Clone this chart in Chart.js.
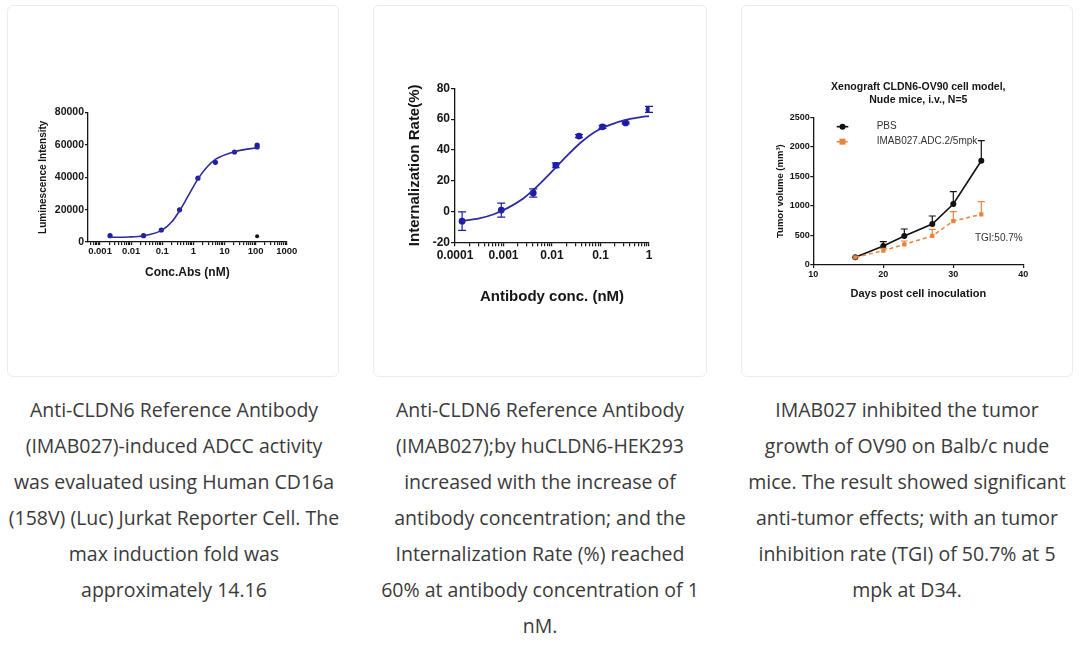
<!DOCTYPE html>
<html>
<head>
<meta charset="utf-8">
<script src="https://cdn.jsdelivr.net/npm/chart.js@4.4.1/dist/chart.umd.min.js"></script>
<style>
  body { margin: 0; background: #fff; width: 1080px; height: 647px; position: relative; overflow: hidden; }
  .card { position: absolute; top: 5px; height: 372px; border: 1px solid #ececec; border-radius: 6px; box-sizing: border-box; }
  canvas { position: absolute; top: 5px; }
  .cap { position: absolute; top: 392px; font-family: 'Open Sans', sans-serif; font-size: 19.5px; line-height: 36px;
         color: #3a3a3a; text-align: center; white-space: nowrap; }
</style>
</head>
<body>
<div class="card" style="left:7px;width:332px"></div>
<div class="card" style="left:373px;width:334px"></div>
<div class="card" style="left:741px;width:332px"></div>

<canvas id="grafAdcc" width="332" height="372" style="left:7px"></canvas>
<canvas id="grafInternal" width="334" height="372" style="left:373px"></canvas>
<canvas id="grafTumor" width="332" height="372" style="left:741px"></canvas>

<div class="cap" style="left:8px;width:332px">Anti-CLDN6 Reference Antibody<br>(IMAB027)-induced ADCC activity<br>was evaluated using Human CD16a<br>(158V) (Luc) Jurkat Reporter Cell. The<br>max induction fold was<br>approximately 14.16</div>
<div class="cap" style="left:373px;width:334px">Anti-CLDN6 Reference Antibody<br>(IMAB027);by huCLDN6-HEK293<br>increased with the increase of<br>antibody concentration; and the<br>Internalization Rate (%) reached<br>60% at antibody concentration of 1<br>nM.</div>
<div class="cap" style="left:741px;width:332px">IMAB027 inhibited the tumor<br>growth of OV90 on Balb/c nude<br>mice. The result showed significant<br>anti-tumor effects; with an tumor<br>inhibition rate (TGI) of 50.7% at 5<br>mpk at D34.</div>

<script>
// ----------------------
// DATOS
// ----------------------
// ADCC (Luminescence vs Conc.Abs)
const adccConc = [0.0021, 0.025, 0.093, 0.36, 1.4, 5.1, 21, 112, 112];
const adccSignal = [3900, 3900, 7400, 19900, 39400, 49200, 55600, 59900, 58700];
const adccCtrlConc = [112];
const adccCtrlSignal = [3500];
const adccFitConc = [0.0021, 0.0081, 0.025, 0.093, 0.2, 0.36, 0.71, 1.41, 2.75, 5.1, 21, 129];
const adccFitSignal = [2900, 3100, 3900, 7000, 12300, 19300, 29100, 39000, 46300, 51000, 55800, 58400];
const adccTicks = ['0.001', '0.01', '0.1', '1', '10', '100', '1000'];

// Internalization
const intConc = [0.00014, 0.0009, 0.0041, 0.012, 0.036, 0.11, 0.33, 1];
const intRate = [-6.3, 0.9, 12, 30, 49, 55, 57.5, 66.3];
const intErr = [6, 4.6, 2.7, 1.6, 1, 1, 0.6, 1.9];
const intFitConc = [0.000141, 0.000316, 0.000631, 0.00126, 0.00251, 0.00501, 0.01, 0.02, 0.0398, 0.0794, 0.158, 0.316, 0.631, 1];
const intFitRate = [-6.0, -4.5, -1.8, 2.5, 8.3, 16.5, 26, 36, 45, 52, 56.3, 59.3, 61.1, 62];
const intTicks = ['0.0001', '0.001', '0.01', '0.1', '1'];

// Xenograft
const dias = [16, 20, 23, 27, 30, 34];
const pbsVol = [130, 321, 491, 694, 1032, 1765];
const pbsErr = [0, 74, 118, 135, 209, 339];
const adcVol = [130, 243, 350, 491, 744, 857];
const adcErr = [0, 39, 56, 112, 158, 214];

// ----------------------
// ESTILO COMUN
// ----------------------
Chart.defaults.font.family = "'Liberation Sans', Arial, sans-serif";
Chart.defaults.color = '#151515';
Chart.defaults.animation = false;

const INK = '#151515';
const AZUL = '#2c2c9c';
const AZUL_PUNTO = '#1d1da6';
const NARANJA = '#e8843c';

const pares = (xs, ys) => xs.map((x, i) => ({ x, y: ys[i] }));

function ejeBase(tickLen) {
  return {
    border: { color: INK, width: 1.3 },
    grid: { drawOnChartArea: false, color: INK, tickLength: tickLen, lineWidth: 1.2 }
  };
}

function etiquetaDecada(labels) {
  return value => {
    const e = Math.log10(value);
    return labels.find(t => Math.abs(Math.log10(Number(t)) - e) < 1e-6) || '';
  };
}

// oculta la marca de 1.5x que mete chart.js en log
function colorTickLog(ctx) {
  const v = ctx.tick ? ctx.tick.value : 1;
  const s = v / Math.pow(10, Math.floor(Math.log10(v) + 1e-9));
  return Math.abs(s - Math.round(s)) < 1e-6 ? INK : 'rgba(0,0,0,0)';
}

// barras de error
const barrasError = {
  id: 'barrasError',
  afterDatasetsDraw(chart) {
    const { ctx, scales: { x, y } } = chart;
    chart.data.datasets.forEach(ds => {
      if (!ds.errores) return;
      const cap = ds.errorCap || 4;
      ctx.save();
      ctx.strokeStyle = ds.errorColor || ds.borderColor;
      ctx.lineWidth = 1.2;
      ctx.setLineDash([]);
      ds.data.forEach((p, i) => {
        const e = ds.errores[i];
        if (!e) return;
        const px = x.getPixelForValue(p.x);
        const arriba = y.getPixelForValue(p.y + e);
        const abajo = y.getPixelForValue(ds.soloArriba ? p.y : p.y - e);
        ctx.beginPath();
        ctx.moveTo(px, arriba); ctx.lineTo(px, abajo);
        ctx.moveTo(px - cap, arriba); ctx.lineTo(px + cap, arriba);
        if (!ds.soloArriba) { ctx.moveTo(px - cap, abajo); ctx.lineTo(px + cap, abajo); }
        ctx.stroke();
      });
      ctx.restore();
    });
  }
};

// leyenda dentro del area
const leyendaDentro = {
  id: 'leyendaDentro',
  afterDraw(chart, args, opts) {
    if (!opts || !opts.display) return;
    const { ctx, chartArea } = chart;
    const lista = chart.data.datasets.slice().reverse();
    lista.forEach((ds, i) => {
      const y = chartArea.top + opts.top + i * opts.fila;
      const x0 = chartArea.left + opts.left;
      ctx.save();
      ctx.strokeStyle = ds.borderColor;
      ctx.lineWidth = ds.borderWidth;
      ctx.setLineDash(ds.borderDash || []);
      ctx.beginPath();
      ctx.moveTo(x0, y); ctx.lineTo(x0 + opts.largo, y);
      ctx.stroke();
      ctx.setLineDash([]);
      ctx.fillStyle = ds.pointBackgroundColor;
      const r = ds.pointRadius;
      const cx = x0 + opts.largo / 2;
      if (ds.pointStyle === 'rect') ctx.fillRect(cx - r, y - r, 2 * r, 2 * r);
      else { ctx.beginPath(); ctx.arc(cx, y, r, 0, Math.PI * 2); ctx.fill(); }
      ctx.fillStyle = opts.color;
      ctx.font = opts.font;
      ctx.textBaseline = 'middle';
      ctx.fillText(ds.label, x0 + opts.texto, y);
      ctx.restore();
    });
  }
};

// texto suelto en coordenadas de datos
const nota = {
  id: 'nota',
  afterDraw(chart, args, opts) {
    if (!opts || !opts.text) return;
    const { ctx, scales: { x, y } } = chart;
    ctx.save();
    ctx.font = opts.font;
    ctx.fillStyle = opts.color;
    ctx.textAlign = 'center';
    ctx.textBaseline = 'middle';
    ctx.fillText(opts.text, x.getPixelForValue(opts.x), y.getPixelForValue(opts.y));
    ctx.restore();
  }
};

// ----------------------
// ADCC
// ----------------------
function graficoAdcc() {
  const ctx = document.getElementById('grafAdcc').getContext('2d');
  const ejeX = ejeBase(3);
  ejeX.grid.tickColor = colorTickLog;
  new Chart(ctx, {
    type: 'scatter',
    data: {
      datasets: [
        {
          data: pares(adccFitConc, adccFitSignal),
          showLine: true, pointRadius: 0, borderColor: AZUL, borderWidth: 1.6,
          cubicInterpolationMode: 'monotone'
        },
        {
          data: pares(adccConc, adccSignal),
          pointRadius: 2.6, pointBackgroundColor: AZUL_PUNTO, pointBorderWidth: 0
        },
        {
          data: pares(adccCtrlConc, adccCtrlSignal),
          pointRadius: 2, pointBackgroundColor: '#111', pointBorderWidth: 0
        }
      ]
    },
    options: {
      responsive: false,
      layout: { padding: { left: 30.7, right: 52.3, top: 107.5, bottom: 97.1 } },
      plugins: { legend: { display: false }, tooltip: { enabled: false } },
      scales: {
        x: {
          ...ejeX,
          type: 'logarithmic', min: 0.00041, max: 1000,
          afterFit: s => { s.height = 37.9; },
          ticks: { autoSkip: false, maxRotation: 0, padding: 1, font: { size: 9.5, weight: 'bold' }, callback: etiquetaDecada(adccTicks) },
          title: { display: true, text: 'Conc.Abs (nM)', padding: 0, font: { size: 12, weight: 'bold' } }
        },
        y: {
          ...ejeBase(3),
          min: 0, max: 80000,
          afterFit: s => { s.width = 50.3; },
          ticks: { stepSize: 20000, padding: 1, font: { size: 10.5, weight: 'bold' }, callback: v => String(v) },
          title: { display: true, text: 'Luminescence Intensity', padding: 0, font: { size: 10, weight: 'bold' } }
        }
      }
    }
  });
}

// ----------------------
// INTERNALIZACION
// ----------------------
function graficoInternal() {
  const ctx = document.getElementById('grafInternal').getContext('2d');
  const ejeX = ejeBase(4);
  ejeX.grid.tickColor = colorTickLog;
  new Chart(ctx, {
    type: 'scatter',
    data: {
      datasets: [
        {
          data: pares(intFitConc, intFitRate),
          showLine: true, pointRadius: 0, borderColor: AZUL, borderWidth: 1.8,
          cubicInterpolationMode: 'monotone'
        },
        {
          data: pares(intConc, intRate),
          pointRadius: 3.4, pointBackgroundColor: AZUL_PUNTO, pointBorderWidth: 0,
          borderColor: AZUL_PUNTO, errores: intErr, errorCap: 4
        }
      ]
    },
    options: {
      responsive: false,
      layout: { padding: { left: 33, right: 58, top: 83.3, bottom: 71.3 } },
      plugins: { legend: { display: false }, tooltip: { enabled: false } },
      scales: {
        x: {
          ...ejeX,
          type: 'logarithmic', min: 0.0001, max: 1,
          afterFit: s => { s.height = 63.4; },
          ticks: { autoSkip: false, maxRotation: 0, padding: 2, font: { size: 12, weight: 'bold' }, callback: etiquetaDecada(intTicks) },
          title: { display: true, text: 'Antibody conc. (nM)', padding: 0, font: { size: 15, weight: 'bold' } }
        },
        y: {
          ...ejeBase(4),
          min: -20, max: 80,
          afterFit: s => { s.width = 49; },
          ticks: { stepSize: 20, padding: 1, font: { size: 12, weight: 'bold' } },
          title: { display: true, text: 'Internalization Rate(%)', padding: 0, font: { size: 15, weight: 'bold' } }
        }
      }
    }
  });
}

// ----------------------
// XENOGRAFT
// ----------------------
function graficoTumor() {
  const ctx = document.getElementById('grafTumor').getContext('2d');
  new Chart(ctx, {
    type: 'scatter',
    data: {
      datasets: [
        {
          label: 'IMAB027.ADC.2/5mpk',
          data: pares(dias, adcVol),
          showLine: true, borderColor: NARANJA, borderWidth: 1.5, borderDash: [4, 3],
          pointStyle: 'rect', pointRadius: 3, pointBackgroundColor: NARANJA, pointBorderWidth: 0,
          errores: adcErr, soloArriba: true, errorCap: 3.5
        },
        {
          label: 'PBS',
          data: pares(dias, pbsVol),
          showLine: true, borderColor: '#111', borderWidth: 1.6,
          pointRadius: 3, pointBackgroundColor: '#111', pointBorderWidth: 0,
          errores: pbsErr, soloArriba: true, errorCap: 3.5
        }
      ]
    },
    options: {
      responsive: false,
      layout: { padding: { left: 34, right: 49.7, top: 75, bottom: 76.4 } },
      plugins: {
        legend: { display: false },
        tooltip: { enabled: false },
        title: {
          display: true, fullSize: false,
          text: ['Xenograft CLDN6-OV90 cell model,', 'Nude mice, i.v., N=5'],
          color: INK, padding: { top: 0, bottom: 10.6 },
          font: { size: 10.5, weight: 'bold', lineHeight: 1.27 }
        },
        leyendaDentro: { display: true, left: 23.4, top: 9.4, fila: 15, largo: 11.6, texto: 40, color: '#333', font: "10px 'Liberation Sans', Arial, sans-serif" },
        nota: { text: 'TGI:50.7%', x: 36.5, y: 460, color: '#333', font: "10px 'Liberation Sans', Arial, sans-serif" }
      },
      scales: {
        x: {
          ...ejeBase(3),
          min: 10, max: 40,
          afterFit: s => { s.height = 35.6; },
          ticks: { stepSize: 10, padding: 1, maxRotation: 0, font: { size: 9, weight: 'bold' } },
          title: { display: true, text: 'Days post cell inoculation', padding: 0, font: { size: 11, weight: 'bold' } }
        },
        y: {
          ...ejeBase(3),
          min: 0, max: 2500,
          afterFit: s => { s.width = 38.3; },
          ticks: { stepSize: 500, padding: 0.5, font: { size: 9, weight: 'bold' }, callback: v => String(v) },
          title: { display: true, text: 'Tumor volume (mm³)', padding: 0, font: { size: 9.5, weight: 'bold' } }
        }
      }
    },
    plugins: [barrasError, leyendaDentro, nota]
  });
}

// ----------------------
// INICIALIZACION
// ----------------------
Chart.register(barrasError);
document.addEventListener('DOMContentLoaded', () => {
  graficoAdcc();
  graficoInternal();
  graficoTumor();
});
</script>
</body>
</html>
